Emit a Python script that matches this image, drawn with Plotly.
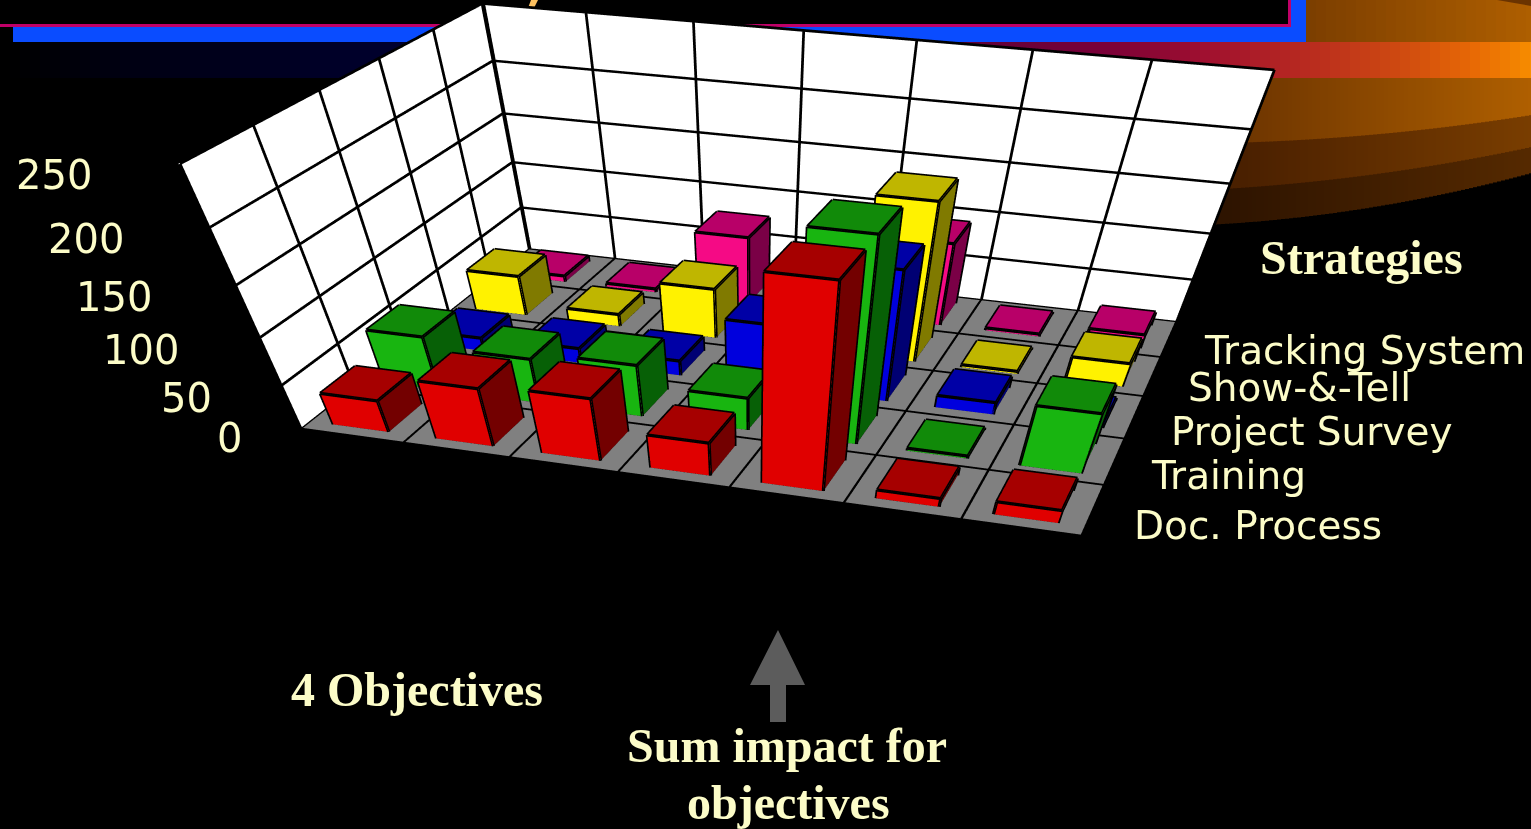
import numpy as np
import plotly.graph_objects as go

# ---- chart data: one list per strategy, one value per objective column
objectives = list(range(1, 8))
strategies = ["Doc. Process", "Training", "Project Survey", "Show-&-Tell", "Tracking System"]
doc_process = [36, 65, 70, 38, 208, 10, 15]
training = [60, 50, 58, 37, 208, 3, 68]
project_survey = [15, 17, 17, 70, 140, 14, 4]
show_tell = [45, 14, 56, 10, 168, 3, 27]
tracking = [7, 4, 75, 10, 92, 3, 16]
z_ticks = [0, 50, 100, 150, 200, 250]

series = [doc_process, training, project_survey, show_tell, tracking]
# front, top and side face colours for each strategy
palette = [("#e00000", "#a60000", "#730000"), ("#18b510", "#118a09", "#076006"),
           ("#0000dd", "#0000a6", "#000073"), ("#fff200", "#bfb600", "#807a00"),
           ("#f50a85", "#b80068", "#7a0046")]

W, H = 1531, 829
CREAM = "#fcfcc8"

# camera and box proportions of the oblique view; the floor is sheared along x
EYE = (0.42, -2.5846, 1.9065)
CENTER = (0.1942, -1.1889, 0.492)
UP = (-0.1264, 0.696, 0.7069)
ASPECT_X, ASPECT_Y, SHEAR = 2.5486, 1.1096, 0.1596
GAP_X, GAP_Y = 0.23, 0.18
N_COL, N_ROW, Z_MAX = len(objectives), len(strategies), z_ticks[-1]


def skew(x, y):
    return x + N_COL / N_ROW * SHEAR * y


flat = dict(flatshading=True, hoverinfo="skip",
            lighting=dict(ambient=1, diffuse=0, specular=0, fresnel=0))
fig = go.Figure()

# floor and the two walls
wall_x = [0, N_COL, N_COL, 0, 0, N_COL, N_COL, 0, 0, 0, 0, 0]
wall_y = [0, 0, N_ROW, N_ROW, N_ROW, N_ROW, N_ROW, N_ROW, 0, N_ROW, N_ROW, 0]
wall_z = [0, 0, 0, 0, 0, 0, Z_MAX, Z_MAX, 0, 0, Z_MAX, Z_MAX]
fig.add_trace(go.Mesh3d(x=[skew(a, b) for a, b in zip(wall_x, wall_y)], y=wall_y, z=wall_z,
                        i=[0, 0, 4, 4, 8, 8], j=[1, 2, 5, 6, 9, 10], k=[2, 3, 6, 7, 10, 11],
                        facecolor=["#808080"] * 2 + ["#ffffff"] * 4, **flat))

# bars
bx, by, bz, bi, bj, bk, bc = [], [], [], [], [], [], []
edge_x, edge_y, edge_z = [], [], []


def add_segment(a, b, xs, ys, zs):
    xs.extend([skew(a[0], a[1]), skew(b[0], b[1]), None])
    ys.extend([a[1], b[1], None])
    zs.extend([a[2], b[2], None])


FACES = [(0, 1, 5, 4), (4, 5, 6, 7), (1, 2, 6, 5), (3, 0, 4, 7), (2, 3, 7, 6)]
EDGES = [(0, 1), (1, 2), (2, 3), (3, 0), (4, 5), (5, 6), (6, 7), (7, 4), (0, 4), (1, 5), (2, 6), (3, 7)]
for row, values in enumerate(series):
    front, top, side = palette[row]
    face_colors = [front, top, side, side, side]
    for col, v in enumerate(values):
        x0, x1, y0, y1 = col + GAP_X, col + 1 - GAP_X, row + GAP_Y, row + 1 - GAP_Y
        corners = [(x0, y0, 0), (x1, y0, 0), (x1, y1, 0), (x0, y1, 0),
                   (x0, y0, v), (x1, y0, v), (x1, y1, v), (x0, y1, v)]
        n = len(bx)
        for c in corners:
            bx.append(skew(c[0], c[1]))
            by.append(c[1])
            bz.append(c[2])
        for f, color in zip(FACES, face_colors):
            bi += [n + f[0], n + f[0]]
            bj += [n + f[1], n + f[2]]
            bk += [n + f[2], n + f[3]]
            bc += [color, color]
        for s, e in EDGES:
            add_segment(corners[s], corners[e], edge_x, edge_y, edge_z)
fig.add_trace(go.Mesh3d(x=bx, y=by, z=bz, i=bi, j=bj, k=bk, facecolor=bc, **flat))
fig.add_trace(go.Scatter3d(x=edge_x, y=edge_y, z=edge_z, mode="lines",
                           line=dict(color="black", width=6.5), hoverinfo="skip"))

# grid lines, lifted a hair off their planes
EPS_X, EPS_Y, EPS_Z = 0.012, 0.012, 0.25
gx, gy, gz = [], [], []
for i in range(N_COL + 1):
    add_segment((i, 0, EPS_Z), (i, N_ROW, EPS_Z), gx, gy, gz)
    add_segment((i, N_ROW - EPS_Y, 0), (i, N_ROW - EPS_Y, Z_MAX), gx, gy, gz)
for j in range(N_ROW + 1):
    add_segment((0, j, EPS_Z), (N_COL, j, EPS_Z), gx, gy, gz)
    add_segment((EPS_X, j, 0), (EPS_X, j, Z_MAX), gx, gy, gz)
for t in z_ticks:
    add_segment((EPS_X, 0, t), (EPS_X, N_ROW, t), gx, gy, gz)
    add_segment((0, N_ROW - EPS_Y, t), (N_COL, N_ROW - EPS_Y, t), gx, gy, gz)
fig.add_trace(go.Scatter3d(x=gx, y=gy, z=gz, mode="lines",
                           line=dict(color="black", width=5.5), hoverinfo="skip"))

# heavy join between the two walls and along the foot of the back wall
jx, jy, jz = [], [], []
add_segment((EPS_X, N_ROW - EPS_Y, 0), (EPS_X, N_ROW - EPS_Y, Z_MAX), jx, jy, jz)
add_segment((0, N_ROW - EPS_Y, EPS_Z), (N_COL, N_ROW - EPS_Y, EPS_Z), jx, jy, jz)
fig.add_trace(go.Scatter3d(x=jx, y=jy, z=jz, mode="lines",
                           line=dict(color="black", width=14), hoverinfo="skip"))


# ---- slide artwork behind the chart, laid out in page pixels
def hex_rgb(c):
    return np.array([int(c[i:i + 2], 16) for i in (1, 3, 5)], float)


def ramp(x, stops):
    xs = [s[0] for s in stops]
    cols = np.array([hex_rgb(s[1]) for s in stops])
    return "rgb(%d,%d,%d)" % tuple(np.interp(x, xs, cols[:, i]) for i in range(3))


def box(x0, y0, x1, y1, color):
    return dict(type="rect", xref="paper", yref="paper", x0=x0 / W, x1=x1 / W,
                y0=1 - y0 / H, y1=1 - y1 / H, fillcolor=color, line_width=0, layer="below")


def polygon(points, color):
    d = "M" + "L".join("%.5f,%.5f" % (x / W, 1 - y / H) for x, y in points) + "Z"
    return dict(type="path", xref="paper", yref="paper", path=d, fillcolor=color,
                line_width=0, layer="below")


shapes = []
BROWN_TOP = [(1223, "#6a3300"), (1531, "#b06000")]
# three overlapping swooshes, darkest and lowest first: bottom edge and colour ramp of each
swooshes = [
    (((1223, 224), (1367, 208), (1531, 173)), [(1223, "#2e1400"), (1531, "#562a00")]),
    (((1238, 188), (1383, 173), (1531, 147)), [(1238, "#4a2000"), (1531, "#7a3e00")]),
    (((1257, 142), (1400, 132), (1531, 115)), BROWN_TOP),
]
for curve, stops in swooshes:
    xs, ys = zip(*curve)
    coef = np.polyfit(xs, ys, 2)
    for x in range(1196, 1531, 4):
        shapes.append(box(x, 70, x + 5, np.polyval(coef, x + 2), ramp(x, stops)))
for x in range(1306, 1531, 10):
    shapes.append(box(x, 0, x + 11, 43, ramp(x, BROWN_TOP)))
band = [(0, "#000000"), (120, "#000012"), (480, "#000038"), (1100, "#7a0038"), (1200, "#a01030"),
        (1300, "#b82a20"), (1400, "#d04c10"), (1470, "#e86a05"), (1531, "#f89000")]
for x in range(0, 1531, 10):
    shapes.append(box(x, 42, x + 11, 78, ramp(x, band)))
shapes.append(box(13, 27, 1306, 42, "#0a4cff"))
shapes.append(box(1291, 0, 1306, 42, "#0a4cff"))
shapes.append(box(0, 24, 1291, 27, "#c00068"))
shapes.append(box(1288, 0, 1291, 27, "#c00068"))
shapes.append(polygon([(1497, 0), (1531, 6), (1531, 0)], "#6a3300"))
shapes.append(polygon([(528, 8), (534, 8), (538, 0), (531, 0)], "#fcc060"))
# arrow pointing at the summed column
shapes.append(polygon([(778, 630), (805, 685), (786, 685), (786, 722), (770, 722), (770, 685), (750, 685)],
                      "#5c5c5c"))


def label(text, x, y, size, family, anchor="left", bold=False):
    body = "<b>%s</b>" % text if bold else text
    return dict(text=body, x=x / W, y=1 - y / H, xref="paper", yref="paper", showarrow=False,
                xanchor=anchor, yanchor="middle", font=dict(color=CREAM, size=size, family=family))


SANS, SERIF = "DejaVu Sans", "Liberation Serif"
tick_pos = [(230, 438), (186, 398), (141, 350), (114, 297), (86, 239), (54, 175)]
row_pos = [(1132, 525), (1149, 475), (1169, 431), (1186, 388), (1202, 350)]
annotations = [label(str(t), px, py, 40, SANS, "center") for t, (px, py) in zip(z_ticks, tick_pos)]
annotations += [label(s, px, py, 39, SANS) for s, (px, py) in zip(strategies, row_pos)]
annotations += [label("Strategies", 1361, 258, 48, SERIF, "center", True),
                label("4 Objectives", 417, 689, 48, SERIF, "center", True),
                label("Sum impact for", 787, 745, 48, SERIF, "center", True),
                label("objectives", 788, 802, 48, SERIF, "center", True)]

hidden = dict(visible=False)
lo, hi = min(0, N_COL * SHEAR), N_COL + max(0, N_COL * SHEAR)
fig.update_layout(
    width=W, height=H, margin=dict(l=0, r=0, t=0, b=0), paper_bgcolor="black", showlegend=False,
    shapes=shapes, annotations=annotations,
    scene=dict(domain=dict(x=[0, 1], y=[0, 1]), bgcolor="rgba(0,0,0,0)",
               xaxis=dict(range=[lo, hi], **hidden), yaxis=dict(range=[0, N_ROW], **hidden),
               zaxis=dict(range=[0, Z_MAX], **hidden), aspectmode="manual",
               aspectratio=dict(x=ASPECT_X * (1 + abs(SHEAR)), y=ASPECT_Y, z=1),
               camera=dict(eye=dict(zip("xyz", EYE)), center=dict(zip("xyz", CENTER)),
                           up=dict(zip("xyz", UP)), projection=dict(type="perspective"))))
fig.write_html("out.html", config=dict(displayModeBar=False))
